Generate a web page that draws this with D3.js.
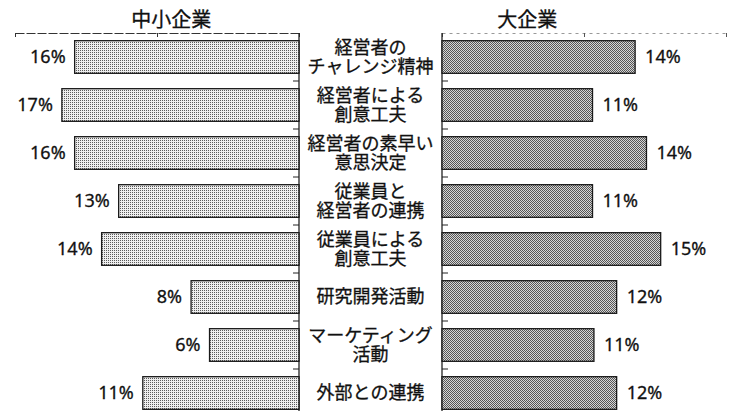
<!DOCTYPE html>
<html>
<head>
<meta charset="utf-8">
<script src="https://cdn.jsdelivr.net/npm/d3@7"></script>
<style>
  body { margin: 0; background: #fff; }
  text { font-family: "Noto Sans CJK JP", "Noto Sans", sans-serif; fill: #111; stroke: #111; stroke-width: 0.3px; }
</style>
</head>
<body>
<script>
var width = 731,
    height = 411;

// categories (two-line labels are split with "|")
var categories = [
    "経営者の|チャレンジ精神",
    "経営者による|創意工夫",
    "経営者の素早い|意思決定",
    "従業員と|経営者の連携",
    "従業員による|創意工夫",
    "研究開発活動",
    "マーケティング|活動",
    "外部との連携"
];
var smallFirms = [15.8, 16.7, 15.8, 12.7, 13.9, 7.6, 6.3, 11.0];   // 中小企業
var largeFirms = [13.6, 10.6, 14.4, 10.6, 15.4, 12.3, 10.7, 12.3]; // 大企業
var panelTitles = ["中小企業", "大企業"];
var axisTicks = [0, 10, 20];

var fmt = function(v) { return Math.round(v) + "%"; };

var svg = d3.select("body").append("svg")
    .attr("width", width)
    .attr("height", height);

// halftone-ish fills
var defs = svg.append("defs");
var pL = defs.append("pattern").attr("id", "dotL")
    .attr("width", 2).attr("height", 2).attr("patternUnits", "userSpaceOnUse");
pL.append("rect").attr("width", 2).attr("height", 2).attr("fill", "#eeeeee");
pL.append("rect").attr("width", 1).attr("height", 1).attr("fill", "#5a5a5a");

var pR = defs.append("pattern").attr("id", "dotR")
    .attr("width", 4).attr("height", 4).attr("patternUnits", "userSpaceOnUse");
pR.append("rect").attr("width", 4).attr("height", 4).attr("fill", "#d6d6d6");
[[0,0],[2,0],[1,1],[3,1],[0,2],[2,2],[3,3],[1,3]].forEach(function(p) {
    pR.append("rect").attr("x", p[0]).attr("y", p[1])
        .attr("width", 1).attr("height", 1).attr("fill", "#555");
});

var y = d3.scaleBand()
    .domain(categories)
    .range([33, 417])
    .paddingInner(0.32)
    .paddingOuter(0.16);

var xL = d3.scaleLinear().domain([0, 20]).range([299, 15]);
var xR = d3.scaleLinear().domain([0, 20]).range([442, 726]);

var rows = categories.map(function(c, i) {
    return { cat: c, small: smallFirms[i], large: largeFirms[i] };
});

// top scale lines
svg.append("g")
    .attr("class", "topL")
    .attr("transform", "translate(0,33)")
    .call(d3.axisBottom(xL).tickValues(axisTicks).tickSize(4).tickSizeOuter(0).tickFormat(""))
    .call(function(g) {
        g.select(".domain").attr("stroke", "#333").attr("stroke-dasharray", "9 2");
        g.selectAll(".tick line").attr("stroke", "#333");
    });

svg.append("g")
    .attr("class", "topR")
    .attr("transform", "translate(0,33)")
    .call(d3.axisBottom(xR).tickValues(axisTicks).tickSize(4).tickSizeOuter(0).tickFormat(""))
    .call(function(g) {
        g.select(".domain").attr("stroke", "#999").attr("stroke-dasharray", "3 4");
        g.selectAll(".tick line").attr("stroke", "#555");
    });

// vertical base lines
var step = y.step();
svg.append("line")
    .attr("x1", xL(0)).attr("x2", xL(0))
    .attr("y1", 33).attr("y2", height)
    .attr("stroke", "#222").attr("stroke-width", 1.3);
svg.append("line")
    .attr("x1", xR(0)).attr("x2", xR(0))
    .attr("y1", 33).attr("y2", height)
    .attr("stroke", "#222").attr("stroke-width", 1.3);

// category separators
var seps = categories.slice(1).map(function(c) { return y(c) - step * y.paddingInner() / 2; });
svg.selectAll(".sepL").data(seps).enter().append("line")
    .attr("x1", xL(0) - 6).attr("x2", xL(0))
    .attr("y1", function(d) { return d; }).attr("y2", function(d) { return d; })
    .attr("stroke", "#222");
svg.selectAll(".sepR").data(seps).enter().append("line")
    .attr("x1", xR(0)).attr("x2", xR(0) + 6)
    .attr("y1", function(d) { return d; }).attr("y2", function(d) { return d; })
    .attr("stroke", "#222");

// bars
svg.selectAll(".barL").data(rows).enter().append("rect")
    .attr("x", function(d) { return xL(d.small); })
    .attr("y", function(d) { return y(d.cat); })
    .attr("width", function(d) { return xL(0) - xL(d.small); })
    .attr("height", y.bandwidth())
    .attr("fill", "url(#dotL)")
    .attr("stroke", "#1a1a1a")
    .attr("stroke-width", 1.3);

svg.selectAll(".barR").data(rows).enter().append("rect")
    .attr("x", xR(0))
    .attr("y", function(d) { return y(d.cat); })
    .attr("width", function(d) { return xR(d.large) - xR(0); })
    .attr("height", y.bandwidth())
    .attr("fill", "url(#dotR)")
    .attr("stroke", "#1a1a1a")
    .attr("stroke-width", 1.3);

// value labels
svg.selectAll(".valL").data(rows).enter().append("text")
    .attr("x", function(d) { return xL(d.small) - 9; })
    .attr("y", function(d) { return y(d.cat) + y.bandwidth() / 2; })
    .attr("dy", "0.36em")
    .attr("text-anchor", "end")
    .style("font-family", "'Noto Sans', sans-serif")
    .style("font-size", "18px")
    .text(function(d) { return fmt(d.small); });

svg.selectAll(".valR").data(rows).enter().append("text")
    .attr("x", function(d) { return xR(d.large) + 10; })
    .attr("y", function(d) { return y(d.cat) + y.bandwidth() / 2; })
    .attr("dy", "0.36em")
    .style("font-family", "'Noto Sans', sans-serif")
    .style("font-size", "18px")
    .text(function(d) { return fmt(d.large); });

// category labels in the middle
var midX = (xL(0) + xR(0)) / 2;
var lab = svg.selectAll(".cat").data(rows).enter().append("text")
    .attr("text-anchor", "middle")
    .style("font-size", "18px")
    .attr("transform", function(d) {
        return "translate(" + midX + "," + (y(d.cat) + y.bandwidth() / 2) + ")";
    });
lab.each(function(d) {
    var lines = d.cat.split("|");
    var t = d3.select(this);
    lines.forEach(function(s, i) {
        t.append("tspan")
            .attr("x", 0)
            .attr("y", (i - (lines.length - 1) / 2) * 19)
            .attr("dy", "0.36em")
            .text(s);
    });
});

// panel titles
svg.append("text")
    .attr("x", xL(9)).attr("y", 27)
    .attr("text-anchor", "middle")
    .style("font-size", "20px")
    .text(panelTitles[0]);
svg.append("text")
    .attr("x", xR(6)).attr("y", 27)
    .attr("text-anchor", "middle")
    .style("font-size", "20px")
    .text(panelTitles[1]);
</script>
</body>
</html>
